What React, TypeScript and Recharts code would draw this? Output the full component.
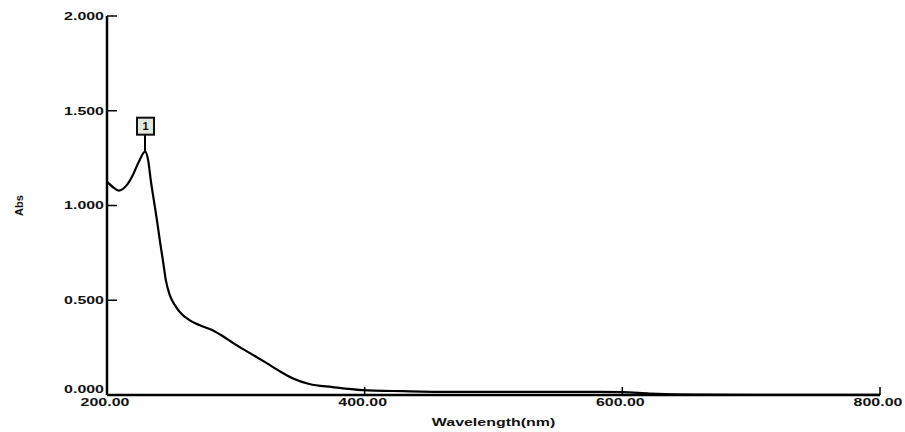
import React from 'react';
import { LineChart, Line, XAxis, YAxis, ReferenceDot } from 'recharts';

// wavelength (nm) and absorbance
const wavelengths = [
  200, 205, 209, 215, 220, 225, 229.5, 232, 234, 236.4, 238.8, 241, 243.4, 245.7, 248.8,
  252.7, 256.6, 264, 272, 282, 290, 298, 311, 324, 334, 344, 357, 375, 398, 430, 466,
  536, 582, 600, 621, 640, 660, 700, 750, 800,
];
const absorbance = [
  1.126, 1.095, 1.079, 1.105, 1.16, 1.235, 1.284, 1.237, 1.132, 1.026, 0.921, 0.816, 0.71, 0.605, 0.526,
  0.474, 0.437, 0.395, 0.368, 0.342, 0.31, 0.274, 0.221, 0.168, 0.126, 0.089, 0.058, 0.042, 0.026, 0.02, 0.016,
  0.016, 0.016, 0.015, 0.008, 0.004, 0.002, 0.001, 0.001, 0.001,
];
const xTicks = [200, 400, 600, 800];
const yTicks = [0, 0.5, 1, 1.5, 2];
const peakIndex = 6;
const peakLabel = '1';

const data = wavelengths.map((w, i) => ({ w, abs: absorbance[i] }));

const FONT = 'Liberation Sans, Arial, sans-serif';
const STRETCH = 1.45;

function YTick({ x, y, payload }: any) {
  // the origin label sits a little higher so it clears the x labels
  const lift = payload.value === 0 ? -6 : 0;
  return (
    <g transform={`translate(${x},${y + lift})`}>
      <text transform={`scale(${STRETCH},1)`} textAnchor="end" dy="0.35em" fontFamily={FONT} fontSize={11} fontWeight="bold" fill="#111">
        {Number(payload.value).toFixed(3)}
      </text>
    </g>
  );
}

function XTick({ x, y, payload }: any) {
  return (
    <g transform={`translate(${x - 2},${y})`}>
      <text transform={`scale(${STRETCH},1)`} textAnchor="middle" dy="0.75em" fontFamily={FONT} fontSize={11} fontWeight="bold" fill="#111">
        {Number(payload.value).toFixed(2)}
      </text>
    </g>
  );
}

function XLabel({ viewBox }: any) {
  const cx = viewBox.x + viewBox.width / 2;
  const y = viewBox.y + viewBox.height - 6;
  return (
    <g transform={`translate(${cx},${y})`}>
      <text transform={`scale(${STRETCH},1)`} textAnchor="middle" fontFamily={FONT} fontSize={11} fontWeight="bold" fill="#111">
        Wavelength(nm)
      </text>
    </g>
  );
}

function PeakMarker({ cx, cy }: any) {
  return (
    <g>
      <line x1={cx} y1={cy} x2={cx} y2={cy - 17} stroke="#000" strokeWidth={2} />
      <rect x={cx - 8} y={cy - 34} width={17} height={17} fill="#dfe7de" stroke="#111" strokeWidth={2} />
      <text x={cx + 0.5} y={cy - 25.5} dy="0.35em" textAnchor="middle" fontFamily={FONT} fontSize={11} fontWeight="bold" fill="#111">
        {peakLabel}
      </text>
    </g>
  );
}

export default function App() {
  return (
    <div style={{ position: 'absolute', left: 0, top: 0, width: 905, height: 432, background: '#fff' }}>
      <LineChart width={905} height={432} data={data} margin={{ top: 16, right: 25, left: 17, bottom: 0 }}>
        <XAxis
          dataKey="w"
          type="number"
          domain={[200, 800]}
          ticks={xTicks}
          height={37}
          stroke="#000"
          axisLine={{ stroke: '#000', strokeWidth: 2.5 }}
          tickLine={{ stroke: '#000', strokeWidth: 1.5 }}
          tickSize={-8}
          tickMargin={11}
          tick={<XTick />}
          label={<XLabel />}
        />
        <YAxis
          type="number"
          domain={[0, 2]}
          ticks={yTicks}
          width={90}
          axisLine={{ stroke: '#000', strokeWidth: 2.5 }}
          tickLine={{ stroke: '#000', strokeWidth: 1.5 }}
          tickSize={-10}
          tickMargin={13}
          tick={<YTick />}
          label={{ value: 'Abs', angle: -90, position: 'insideLeft', offset: 2, style: { textAnchor: 'middle', fontFamily: FONT, fontSize: 11, fontWeight: 'bold', fill: '#111' } }}
        />
        <Line type="monotone" dataKey="abs" stroke="#000" strokeWidth={2.2} dot={false} isAnimationActive={false} />
        <ReferenceDot x={wavelengths[peakIndex]} y={absorbance[peakIndex]} shape={<PeakMarker />} />
      </LineChart>
    </div>
  );
}
